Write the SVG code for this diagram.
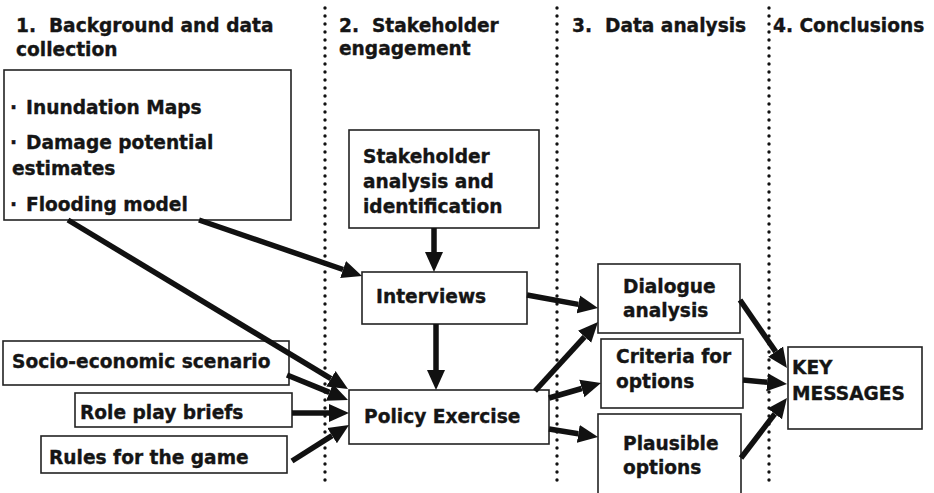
<svg xmlns="http://www.w3.org/2000/svg" width="934" height="493" viewBox="0 0 934 493">
  <defs>
    <style>
      text { font-family: "DejaVu Sans", Verdana, sans-serif; font-weight: bold; font-size: 18.6px; fill: #151515; stroke: #151515; stroke-width: 0.35; }
      .box { fill: #ffffff; stroke: #222222; stroke-width: 1.6; }
      .lane { stroke: #111111; stroke-width: 3.4; stroke-linecap: round; stroke-dasharray: 0 8; fill: none; }
      .arrow { stroke: #111111; stroke-width: 5.5; fill: none; marker-end: url(#ah); }
    </style>
    <marker id="ah" markerUnits="userSpaceOnUse" markerWidth="22" markerHeight="20" viewBox="0 -10 22 20" refX="0" refY="0" orient="auto">
      <path d="M0,-9 L20,0 L0,9 z" fill="#111111"/>
    </marker>
  </defs>

  <!-- phase separators -->
  <g id="lanes">
    <line class="lane" x1="325" y1="8" x2="325" y2="487"/>
    <line class="lane" x1="557" y1="8" x2="557" y2="487"/>
    <line class="lane" x1="769" y1="8" x2="769" y2="487"/>
  </g>

  <!-- phase headings -->
  <g id="headings">
    <text x="16" y="32">1.&#160; Background and data</text>
    <text x="16" y="56">collection</text>
    <text x="339" y="32">2.&#160; Stakeholder</text>
    <text x="339" y="55">engagement</text>
    <text x="572" y="32">3.&#160; Data analysis</text>
    <text x="773" y="32">4. Conclusions</text>
  </g>

  <g id="background">
    <rect class="box" x="4" y="70" width="287" height="150"/>
    <text x="10" y="114">·</text>
    <text x="26" y="114">Inundation Maps</text>
    <text x="10" y="149">·</text>
    <text x="26" y="149">Damage potential</text>
    <text x="12" y="175">estimates</text>
    <text x="10" y="211">·</text>
    <text x="26" y="211">Flooding model</text>
  </g>

  <g id="socio">
    <rect class="box" x="3" y="341" width="286" height="44"/>
    <text x="12" y="368">Socio-economic scenario</text>
  </g>

  <g id="roleplay">
    <rect class="box" x="75" y="393" width="217" height="34"/>
    <text x="80" y="419">Role play briefs</text>
  </g>

  <g id="rules">
    <rect class="box" x="41" y="436" width="246" height="37"/>
    <text x="49" y="464">Rules for the game</text>
  </g>

  <g id="stakeholder">
    <rect class="box" x="349" y="130" width="190" height="98"/>
    <text x="363" y="163">Stakeholder</text>
    <text x="363" y="188">analysis and</text>
    <text x="363" y="213">identification</text>
  </g>

  <g id="interviews">
    <rect class="box" x="362" y="272" width="165" height="52"/>
    <text x="376" y="303">Interviews</text>
  </g>

  <g id="policy">
    <rect class="box" x="349" y="390" width="200" height="54"/>
    <text x="364" y="423">Policy Exercise</text>
  </g>

  <g id="dialogue">
    <rect class="box" x="598" y="264" width="142" height="69"/>
    <text x="623" y="293">Dialogue</text>
    <text x="623" y="317">analysis</text>
  </g>

  <g id="criteria">
    <rect class="box" x="601" y="339" width="142" height="69"/>
    <text x="616" y="363">Criteria for</text>
    <text x="616" y="388">options</text>
  </g>

  <g id="plausible">
    <rect class="box" x="598" y="414" width="143" height="84"/>
    <text x="623" y="450">Plausible</text>
    <text x="623" y="474">options</text>
  </g>

  <g id="keymessages">
    <rect class="box" x="788" y="347" width="134" height="82"/>
    <text x="792" y="374">KEY</text>
    <text x="792" y="400">MESSAGES</text>
  </g>

  <!-- connectors -->
  <g id="connectors">
    <line class="arrow" x1="434" y1="228" x2="434" y2="252"/>
    <line class="arrow" x1="199" y1="220" x2="343.1" y2="269.5"/>
    <line class="arrow" x1="68" y1="220" x2="330.9" y2="378.7"/>
    <line class="arrow" x1="287" y1="375" x2="329.5" y2="392.4"/>
    <line class="arrow" x1="292" y1="413" x2="329" y2="413"/>
    <line class="arrow" x1="292" y1="461" x2="332.1" y2="435.7"/>
    <line class="arrow" x1="436" y1="324" x2="436" y2="370"/>
    <line class="arrow" x1="527" y1="295" x2="578.3" y2="304.4"/>
    <line class="arrow" x1="535" y1="391" x2="584.5" y2="336.8"/>
    <line class="arrow" x1="549" y1="398" x2="581.8" y2="388.5"/>
    <line class="arrow" x1="549" y1="429" x2="578.3" y2="433.8"/>
    <line class="arrow" x1="740" y1="300" x2="775.6" y2="351.6"/>
    <line class="arrow" x1="743" y1="380" x2="767.1" y2="382.2"/>
    <line class="arrow" x1="741" y1="458" x2="774.8" y2="413.9"/>
  </g>
</svg>
